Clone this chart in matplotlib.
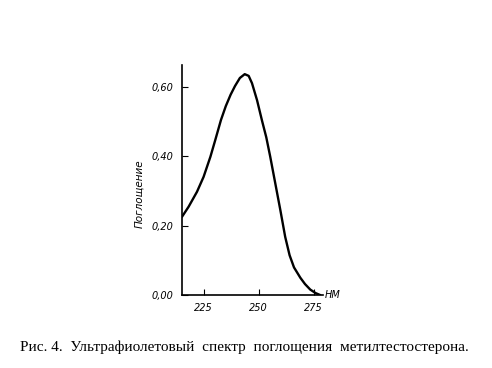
import matplotlib
matplotlib.use("Agg")
import matplotlib.pyplot as plt

# spectrum (nm, absorbance)
wavelength = [215.1, 218.1, 221.9, 224.9, 228.0, 230.2, 232.8, 235.0, 237.2,
              239.2, 241.4, 243.6, 245.4, 246.9, 249.2, 251.5, 253.4, 255.2,
              257.5, 259.8, 262.0, 264.0, 266.0, 268.9, 271.0, 273.4, 275.8,
              278.0]
absorbance = [0.226, 0.255, 0.298, 0.341, 0.399, 0.447, 0.505, 0.545, 0.578,
              0.603, 0.626, 0.637, 0.632, 0.611, 0.562, 0.502, 0.455, 0.399,
              0.322, 0.245, 0.168, 0.115, 0.080, 0.050, 0.032, 0.016, 0.006,
              0.0]

x_ticks = [225, 250, 275]
y_ticks = [0.0, 0.2, 0.4, 0.6]
y_tick_labels = ["0,00", "0,20", "0,40", "0,60"]
caption = "Рис. 4.  Ультрафиолетовый  спектр  поглощения  метилтестостерона."

fig = plt.figure(figsize=(4.92, 3.68), dpi=100)
ax = fig.add_axes([0.370, 0.198, 0.287, 0.625])
ax.plot(wavelength, absorbance, color="black", lw=1.7,
        solid_joinstyle="round", solid_capstyle="round")
ax.set_xlim(215.1, 279.3)
ax.set_ylim(0, 0.663)

for s in ("top", "right"):
    ax.spines[s].set_visible(False)
for s in ("left", "bottom"):
    ax.spines[s].set_linewidth(1.2)

ax.set_xticks(x_ticks)
ax.set_xticklabels([str(t) for t in x_ticks], style="italic", fontsize=7)
ax.set_yticks(y_ticks)
ax.set_yticklabels(y_tick_labels, style="italic", fontsize=7)
ax.tick_params(direction="in", length=4, width=0.8, pad=6)

ax.set_ylabel("Поглощение", style="italic", fontsize=7.5)
ax.yaxis.set_label_coords(-0.27, 0.44)
ax.text(1.01, 0.0, "НМ", transform=ax.transAxes, style="italic",
        fontsize=7, va="center", ha="left")

fig.text(0.497, 0.057, caption, ha="center", va="center",
         family="Liberation Serif", fontsize=11)

fig.savefig("out.png", dpi=100)
